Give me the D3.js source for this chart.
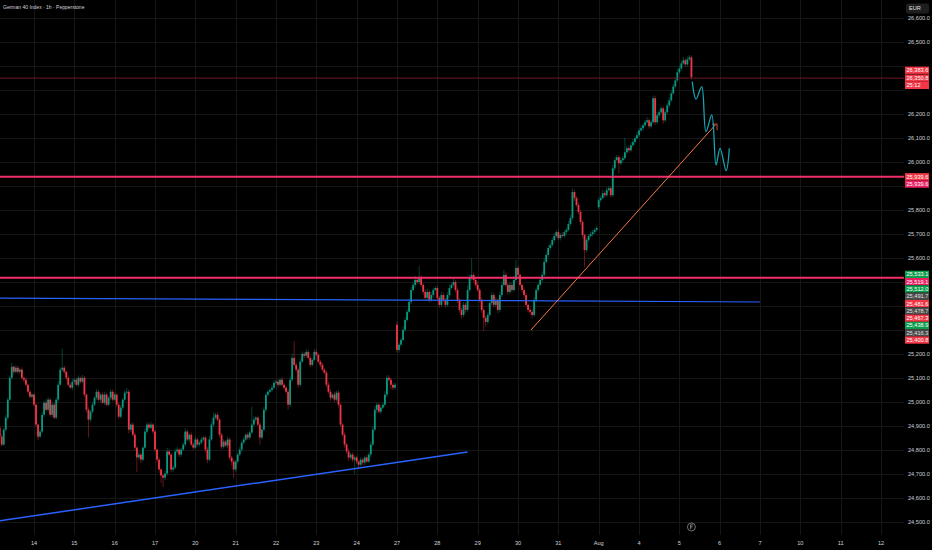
<!DOCTYPE html>
<head>
  <meta charset="utf-8">
  <script src="https://d3js.org/d3.v7.min.js"></script>
  <style>
    body { margin: 0; background: #000; }
    svg { display: block; font-family: "Liberation Sans", Arial, sans-serif; }
  </style>
</head>
<body>
  <svg width="932" height="550"></svg>
  <script>
    var title = 'German 40 Index · 1h · Pepperstone';
    var dayLabels = ['14', '15', '16', '17', '20', '21', '22', '23', '24', '27', '28',
      '29', '30', '31', 'Aug', '4', '5', '6', '7', '10', '11', '12'];

    // hourly closes, 20 bars a session, Jul 13 (partial) .. Aug 5 (partial)
    var closes = [
      24857, 24824, 24886, 24936, 25011, 25102, 25148, 25127, 25144, 25127, 25136, 25102, 25094, 25073, 25044, 25023, 25032,
      24990, 24907, 24857, 24878, 24948, 24998, 24969, 25011, 24948, 24990, 24936, 25011, 25073, 25136, 25144, 25127, 25102, 25073, 25061, 25086,
      25094, 25073, 25102, 25086, 25102, 25032, 24969, 24928, 24961, 24990, 25019, 25044, 25011, 25032, 24998, 25032, 24990, 25019, 25044, 25011,
      25032, 24990, 24940, 24978, 25011, 25040, 25044, 24886, 24907, 24865, 24811, 24770, 24782, 24761, 24811, 24878, 24907, 24894, 24907, 24878,
      24803, 24761, 24720, 24695, 24686, 24703, 24795, 24782, 24720, 24728, 24795, 24803, 24782, 24803, 24824, 24878, 24845, 24865, 24824, 24811,
      24845, 24824, 24832, 24845, 24853, 24803, 24761, 24845, 24907, 24936, 24948, 24928, 24865, 24815, 24836, 24820, 24845, 24770, 24753, 24720,
      24753, 24782, 24803, 24832, 24845, 24865, 24853, 24874, 24907, 24928, 24936, 24907, 24853, 24886, 24969, 25032, 25044, 25052, 25061, 25081,
      25086, 25073, 25094, 25073, 25061, 25044, 24990, 25094, 25185, 25156, 25136, 25073, 25169, 25202, 25194, 25210, 25185, 25156, 25177, 25210,
      25198, 25169, 25156, 25136, 25123, 25073, 25044, 25019, 25032, 25011, 25040, 24990, 24907, 24865, 24824, 24795, 24770, 24782, 24761, 24770,
      24753, 24740, 24761, 24749, 24770, 24753, 24782, 24824, 24886, 24969, 24990, 24961, 24978, 24990, 25032, 25102, 25094, 25073, 25061, 25073,
      25218, 25240, 25260, 25302, 25343, 25377, 25418, 25468, 25489, 25510, 25501, 25518, 25489, 25460, 25435, 25460, 25427, 25447, 25468, 25476,
      25435, 25406, 25447, 25427, 25406, 25447, 25476, 25489, 25501, 25468, 25427, 25385, 25364, 25406, 25385, 25468, 25518, 25531, 25510, 25489,
      25468, 25427, 25385, 25352, 25335, 25364, 25414, 25447, 25406, 25427, 25385, 25447, 25489, 25531, 25489, 25460, 25489, 25468, 25510, 25560,
      25531, 25489, 25468, 25447, 25406, 25385, 25377, 25364, 25427, 25468, 25489, 25510, 25531, 25585, 25614, 25643, 25655, 25676, 25693, 25709,
      25684, 25697, 25693, 25709, 25718, 25743, 25768, 25876, 25851, 25822, 25793, 25751, 25697, 25634, 25676, 25693, 25701, 25709, 25718, 25726,
      25842, 25851, 25871, 25863, 25884, 25892, 25863, 25975, 26009, 26021, 25996, 26009, 26017, 26042, 26059, 26050, 26071, 26084, 26100, 26113,
      26133, 26142, 26154, 26167, 26175, 26150, 26167, 26267, 26167, 26196, 26208, 26225, 26175, 26208, 26237, 26258, 26287, 26316, 26341, 26375,
      26391, 26412, 26425, 26408, 26429, 26437, 26354
    ];
    var firstOpen = 24894;
    var gapOpens = [[197, 25323], [297, 25813]];

    // wick length above / below the body, in points
    var wickUp = [
      8, 10, 6, 12, 8, 10, 16, 6, 10, 8, 6, 10, 5, 8, 6, 10, 8,
      6, 8, 5, 10, 12, 8, 14, 10, 6, 12, 8, 10, 15, 10, 80, 8, 6, 10, 8, 12,
      6, 8, 10, 6, 12, 8, 5, 10, 8, 12, 6, 10, 8, 6, 10, 12, 8, 6, 10, 8,
      10, 6, 8, 12, 6, 10, 15, 8, 6, 10, 8, 5, 12, 8, 6, 14, 10, 8, 12, 6,
      8, 6, 10, 5, 8, 12, 15, 10, 6, 8, 12, 10, 6, 8, 10, 14, 8, 6, 10, 8,
      12, 6, 8, 10, 6, 8, 10, 14, 12, 20, 8, 10, 6, 8, 10, 6, 12, 8, 6, 10,
      8, 6, 10, 8, 12, 6, 10, 8, 75, 12, 8, 6, 10, 14, 12, 10, 8, 6, 10, 12,
      8, 10, 6, 12, 8, 6, 10, 14, 18, 70, 10, 8, 12, 10, 6, 12, 8, 10, 6, 12,
      10, 6, 8, 10, 6, 8, 12, 10, 6, 12, 8, 10, 6, 8, 10, 6, 12, 8, 10, 6,
      8, 6, 10, 8, 6, 10, 8, 12, 14, 16, 10, 8, 12, 10, 14, 12, 10, 8, 6, 10,
      12, 10, 8, 14, 12, 10, 14, 12, 10, 16, 10, 50, 12, 8, 10, 14, 8, 12, 10, 8,
      10, 8, 14, 10, 8, 12, 14, 10, 16, 8, 10, 6, 8, 12, 10, 18, 14, 70, 10, 8,
      12, 8, 10, 6, 8, 10, 14, 12, 8, 10, 6, 14, 12, 20, 10, 8, 12, 10, 16, 33,
      10, 8, 6, 10, 8, 6, 8, 10, 12, 10, 8, 12, 14, 16, 10, 12, 8, 10, 12, 8,
      10, 8, 12, 10, 8, 12, 14, 15, 10, 8, 12, 10, 8, 6, 10, 8, 12, 10, 8, 10,
      12, 10, 14, 8, 12, 10, 8, 14, 12, 10, 8, 12, 10, 60, 12, 10, 14, 12, 10, 12,
      10, 12, 8, 10, 14, 8, 10, 12, 10, 14, 12, 10, 8, 12, 10, 14, 12, 10, 12, 14,
      12, 10, 14, 8, 12, 10, 8
    ];
    var wickDn = [
      10, 8, 6, 8, 10, 6, 8, 12, 6, 10, 8, 6, 10, 8, 12, 6, 10,
      8, 10, 15, 6, 8, 10, 6, 12, 8, 10, 6, 8, 10, 6, 8, 10, 12, 8, 6, 10,
      8, 6, 10, 8, 6, 10, 12, 75, 10, 8, 6, 10, 8, 12, 6, 10, 8, 6, 10, 8,
      6, 10, 8, 6, 12, 8, 6, 15, 10, 8, 12, 60, 10, 14, 8, 6, 10, 8, 6, 10,
      10, 12, 14, 30, 40, 10, 8, 6, 12, 10, 8, 6, 10, 8, 6, 10, 8, 12, 6, 10,
      6, 8, 10, 6, 8, 12, 14, 8, 6, 10, 8, 6, 12, 10, 8, 6, 10, 12, 14, 35,
      10, 8, 6, 10, 8, 6, 10, 8, 6, 8, 10, 6, 30, 8, 6, 10, 8, 6, 10, 8,
      6, 10, 8, 6, 10, 8, 20, 10, 8, 6, 10, 12, 8, 6, 10, 8, 6, 10, 8, 6,
      8, 6, 10, 8, 6, 10, 8, 12, 6, 10, 8, 12, 10, 8, 12, 10, 14, 8, 10, 60,
      10, 20, 8, 12, 10, 8, 6, 10, 8, 6, 12, 8, 10, 6, 8, 10, 8, 20, 10, 8,
      10, 12, 8, 6, 10, 8, 6, 10, 8, 12, 10, 8, 10, 12, 8, 10, 12, 8, 10, 6,
      10, 12, 8, 10, 12, 8, 10, 6, 8, 10, 14, 12, 16, 10, 12, 8, 6, 10, 8, 10,
      8, 10, 12, 55, 20, 10, 8, 10, 12, 8, 14, 10, 8, 6, 10, 12, 8, 10, 6, 8,
      10, 8, 12, 10, 8, 12, 10, 14, 8, 10, 8, 6, 10, 8, 6, 10, 8, 6, 10, 8,
      8, 10, 6, 8, 10, 6, 8, 10, 12, 8, 10, 12, 14, 70, 10, 8, 6, 10, 8, 6,
      10, 8, 6, 10, 8, 6, 10, 8, 10, 6, 40, 8, 10, 6, 8, 10, 6, 8, 10, 6,
      8, 6, 10, 8, 6, 10, 8, 6, 12, 8, 10, 6, 14, 8, 6, 10, 8, 6, 8, 6,
      8, 10, 6, 12, 8, 6, 10
    ];

    // drawings as [bar index, price]
    var resistance = 26350.8;
    var zoneTop = 25939.6;
    var zoneLow = 25519.1;
    var blueLevel = [[-1, 25434], [377, 25418]];
    var blueTrend = [[-1, 24505], [232, 24793]];
    var orangeTrend = [[263.4, 25301], [355.2, 26159]];
    var projection = [[343.4, 26336], [345.3, 26263], [348.1, 26315], [350.2, 26128], [353.1, 26197],
      [355.2, 25989], [357.2, 26058], [360.2, 25965], [361.8, 26058]];

    // price scale labels
    var axisPrices = [26383.6, 26350.8, 25939.6, 25939.6, 25533.1, 25519.1, 25512.0,
      25491.7, 25481.6, 25478.7, 25467.3, 25438.9, 25416.3, 25400.8];
    var axisKinds = ['red', 'red', 'red', 'pink', 'green', 'pink', 'green',
      'gray', 'red', 'gray', 'red', 'green', 'gray', 'red'];
    var countdown = '25:12';

    var kindColor = { red: '#f23645', pink: '#e91e63', green: '#089e4a', gray: '#4a4a4a' };
    var W = 932, H = 550, plotRight = 904, plotBottom = 535;

    var svg = d3.select('svg');
    svg.append('rect').attr('width', W).attr('height', H).attr('fill', '#000');

    var x = d3.scaleLinear().domain([0, 21]).range([34, 881]);
    var y = d3.scaleLinear().domain([24500, 26600]).range([522.3, 18.3]);
    function barX(i) { return x((i - 17) / 20); }
    var fmt = d3.format(',.1f');

    // stacked price labels (laid out first so covered ticks can be dropped)
    var boxH = 7.3;
    var labels = axisPrices.map(function(p, i) {
      return { text: fmt(p), price: p, color: kindColor[axisKinds[i]] };
    });
    labels.splice(2, 0, { text: countdown, price: resistance, color: kindColor.red, stick: true });
    var lastBottom = -Infinity;
    labels.forEach(function(d) {
      var top = d.stick ? lastBottom : y(d.price) - boxH / 2;
      if (top < lastBottom) top = lastBottom;
      d.top = top;
      lastBottom = top + boxH;
    });
    var ticks = y.ticks(21).filter(function(t) {
      var ty = y(t);
      return !labels.some(function(d) { return ty > d.top - 3 && ty < d.top + boxH + 3; });
    });

    // grid
    var grid = svg.append('g').attr('stroke', '#161616').attr('stroke-width', 1);
    grid.selectAll('line.h').data(y.ticks(21)).enter().append('line')
      .attr('x1', 0).attr('x2', plotRight)
      .attr('y1', function(d) { return Math.round(y(d)) + 0.5; })
      .attr('y2', function(d) { return Math.round(y(d)) + 0.5; });
    grid.selectAll('line.v').data(dayLabels).enter().append('line')
      .attr('y1', 0).attr('y2', plotBottom)
      .attr('x1', function(d, i) { return Math.round(x(i)) + 0.5; })
      .attr('x2', function(d, i) { return Math.round(x(i)) + 0.5; });

    // candles
    var gapMap = new Map(gapOpens);
    var bars = closes.map(function(c, i) {
      var o = gapMap.has(i) ? gapMap.get(i) : (i === 0 ? firstOpen : closes[i - 1]);
      return {
        i: i, o: o, c: c,
        h: Math.max(o, c) + wickUp[i],
        l: Math.min(o, c) - wickDn[i],
        up: c >= o
      };
    });

    var candles = svg.append('g');
    candles.selectAll('line').data(bars).enter().append('line')
      .attr('x1', function(d) { return barX(d.i); })
      .attr('x2', function(d) { return barX(d.i); })
      .attr('y1', function(d) { return y(d.h); })
      .attr('y2', function(d) { return y(d.l); })
      .attr('stroke', function(d) { return d.up ? '#089981' : '#f23645'; })
      .attr('stroke-opacity', 0.6)
      .attr('stroke-width', 0.7);
    candles.selectAll('rect').data(bars).enter().append('rect')
      .attr('x', function(d) { return barX(d.i) - 0.9; })
      .attr('width', 1.8)
      .attr('y', function(d) { return y(Math.max(d.o, d.c)); })
      .attr('height', function(d) { return Math.max(0.8, Math.abs(y(d.o) - y(d.c))); })
      .attr('fill', function(d) { return d.up ? '#089981' : '#f23645'; });

    // drawings
    var line = d3.line()
      .x(function(d) { return barX(d[0]); })
      .y(function(d) { return y(d[1]); });

    svg.append('line')
      .attr('x1', 0).attr('x2', plotRight)
      .attr('y1', y(resistance)).attr('y2', y(resistance))
      .attr('stroke', '#6e1c26').attr('stroke-width', 1);
    [zoneTop, zoneLow].forEach(function(p) {
      svg.append('line')
        .attr('x1', 0).attr('x2', plotRight)
        .attr('y1', y(p)).attr('y2', y(p))
        .attr('stroke', '#f0306a').attr('stroke-width', 2);
    });
    svg.append('path').attr('d', line(blueLevel))
      .attr('fill', 'none').attr('stroke', '#2962ff').attr('stroke-width', 1.2);
    svg.append('path').attr('d', line(blueTrend))
      .attr('fill', 'none').attr('stroke', '#2962ff').attr('stroke-width', 1.5);
    svg.append('path').attr('d', line(orangeTrend))
      .attr('fill', 'none').attr('stroke', '#f57a45').attr('stroke-width', 1);

    var end = orangeTrend[1];
    svg.append('path')
      .attr('d', 'M' + (barX(end[0]) - 4) + ',' + y(end[1]) + 'h5v6')
      .attr('fill', 'none').attr('stroke', '#a8402e').attr('stroke-width', 1.2);

    svg.append('path')
      .attr('d', line.curve(d3.curveCatmullRom.alpha(0.5))(projection))
      .attr('fill', 'none').attr('stroke', '#14a3b1').attr('stroke-width', 1.3);

    // price axis ticks
    svg.append('g').selectAll('text').data(ticks).enter().append('text')
      .attr('x', 908).attr('y', function(d) { return y(d); })
      .attr('dy', '0.35em')
      .attr('font-size', 5.6).attr('fill', '#d1d4dc')
      .text(function(d) { return fmt(d); });

    var lab = svg.append('g').selectAll('g').data(labels).enter().append('g');
    lab.append('rect')
      .attr('x', 905).attr('width', 24)
      .attr('y', function(d) { return d.top; })
      .attr('height', boxH)
      .attr('fill', function(d) { return d.color; });
    lab.append('text')
      .attr('x', 906.5)
      .attr('y', function(d) { return d.top + boxH / 2; })
      .attr('dy', '0.36em')
      .attr('font-size', 5.6)
      .attr('fill', function(d) { return d.color === kindColor.gray ? '#e0e0e0' : '#fff'; })
      .text(function(d) { return d.text; });

    // currency badge
    svg.append('rect').attr('x', 906).attr('y', 3.5).attr('width', 23).attr('height', 10)
      .attr('rx', 2).attr('fill', '#1e1e1e');
    svg.append('text').attr('x', 909).attr('y', 8.5).attr('dy', '0.35em')
      .attr('font-size', 5.6).attr('fill', '#e0e0e0').text('EUR');

    // time axis
    svg.append('g').selectAll('text').data(dayLabels).enter().append('text')
      .attr('x', function(d, i) { return x(i); })
      .attr('y', 543).attr('dy', '0.35em')
      .attr('text-anchor', 'middle')
      .attr('font-size', 5.6).attr('fill', '#d1d4dc')
      .text(function(d) { return d; });

    // event marker
    var ev = svg.append('g').attr('transform', 'translate(' + barX(343) + ',527)');
    ev.append('circle').attr('r', 4).attr('fill', '#000')
      .attr('stroke', '#8a8d96').attr('stroke-width', 0.8);
    ev.append('path').attr('d', 'M-0.8,-2.2v4.4M-0.8,-2.2h2.2M-0.8,-0.2h1.8')
      .attr('fill', 'none').attr('stroke', '#b2b5be').attr('stroke-width', 0.7);

    // title
    svg.append('text').attr('x', 3).attr('y', 7).attr('dy', '0.35em')
      .attr('font-size', 5).attr('fill', '#d1d4dc').text(title);
  </script>
</body>
